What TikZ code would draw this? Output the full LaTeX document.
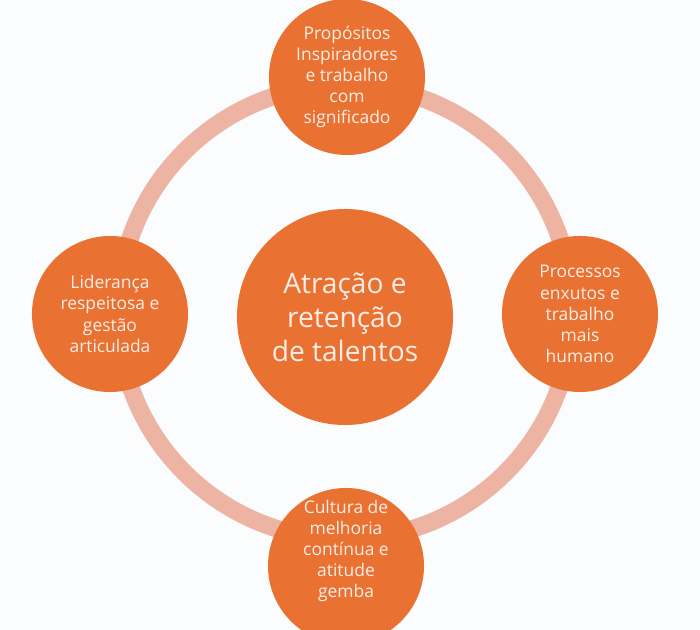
\documentclass[tikz,border=0pt]{standalone}
\usepackage{fontspec}
\setmainfont{Open Sans}
\definecolor{laranja}{HTML}{E97132}
\definecolor{anel}{HTML}{EEB4A3}
\definecolor{texto}{HTML}{FCEEE6}
\definecolor{fundo}{HTML}{FAFCFE}
\tikzset{
  hub/.style={circle,fill=laranja,text=texto,minimum size=5.4cm,inner sep=0pt,
    align=center,font=\fontsize{20}{24.2}\selectfont},
  sat/.style={circle,fill=laranja,text=texto,minimum size=3.9cm,inner sep=0pt,
    align=center,font=\fontsize{12.4}{15}\selectfont},
  anel/.style={draw=anel,line width=0.44cm}
}
\begin{document}
\begin{tikzpicture}[x=0.025cm,y=-0.025cm]
    \fill[fundo] (0,0) rectangle (700,630);
    \useasboundingbox (0,0) rectangle (700,630);
    \coordinate (meio) at (345,312);
    \draw[anel] (meio) circle [radius=5.675cm];%anel
    \node[hub] (atracao) at (345,317) {Atração e\\retenção\\de talentos};
    \node[sat] (propositos) at (347,77) {Propósitos\\Inspiradores\\e trabalho\\com\\significado};
    \node[sat] (lideranca) at (110,314) {Liderança\\respeitosa e\\gestão\\articulada};
    \node[sat] (processos) at (580,314) {Processos\\enxutos e\\trabalho\\mais\\humano};
    \node[sat] (cultura) at (346,566) {\raisebox{0.36cm}[\height][\depth]{%
        \begin{tabular}{@{}c@{}}Cultura de\\melhoria\\contínua e\\atitude\\gemba\end{tabular}}};
\end{tikzpicture}
\end{document}
